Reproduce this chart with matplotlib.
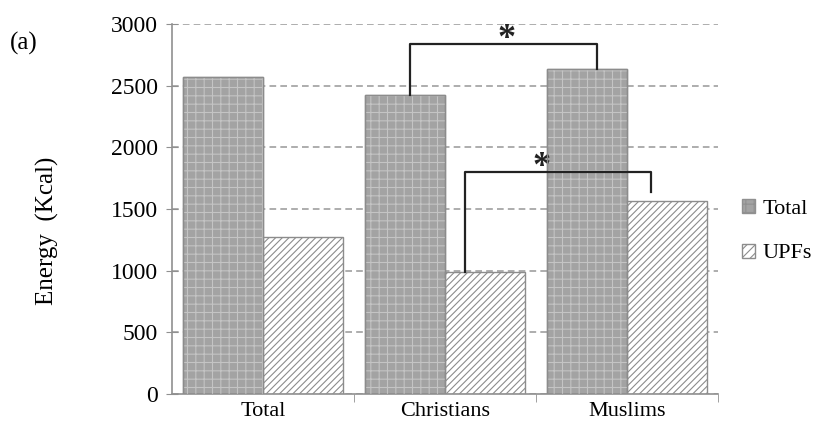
import matplotlib
matplotlib.use("Agg")
import matplotlib.pyplot as plt
from matplotlib.patches import Patch
import numpy as np

plt.rcParams['font.family'] = ['Liberation Serif', 'DejaVu Serif']
plt.rcParams['hatch.linewidth'] = 0.8

groups = ['Total', 'Christians', 'Muslims']
total_vals = [2570, 2425, 2640]
upf_vals = [1275, 990, 1565]
series = ['Total', 'UPFs']

x = np.arange(len(groups))
w = 0.44

fig = plt.figure(figsize=(8.21, 4.30), dpi=100)
ax = fig.add_axes([0.2095, 0.0837, 0.665, 0.86])

# checkered grey bars for Total
ax.bar(x - w / 2, total_vals, w, color='#a3a3a3', edgecolor='#909090', lw=1.0, zorder=2)
ax.bar(x - w / 2, total_vals, w, fill=False, hatch='++', edgecolor='#c4c4c4', lw=0, zorder=3)
ax.bar(x - w / 2, total_vals, w, fill=False, edgecolor='#8c8c8c', lw=1.0, zorder=4)
# hatched white bars for UPFs
ax.bar(x + w / 2, upf_vals, w, color='white', hatch='/////', edgecolor='#8c8c8c', lw=1.0,
       zorder=2)

ax.set_xlim(-0.5, 2.5)
ax.set_ylim(0, 3000)
ax.set_yticks(np.arange(0, 3001, 500))
ax.set_xticks(x)
ax.set_xticklabels(groups, fontsize=16)
ax.set_xticks([0.5, 1.5, 2.5], minor=True)
ax.tick_params(axis='x', which='major', length=0, pad=6)
ax.tick_params(axis='x', which='minor', length=6, color='#909090', direction='out')
ax.tick_params(axis='y', labelsize=17, length=8, direction='inout', color='#909090', pad=6)
ax.yaxis.grid(True, linestyle=(0, (4, 2.5)), color='#a0a0a0', lw=1.2, zorder=0)
ax.set_axisbelow(True)
for s in ['top', 'right']:
    ax.spines[s].set_visible(False)
for s in ['left', 'bottom']:
    ax.spines[s].set_color('#909090')
    ax.spines[s].set_linewidth(1.2)
ax.set_ylabel('Energy  (Kcal)', fontsize=18, va='center')
ax.yaxis.set_label_coords(-0.228, 0.44)

# significance brackets
def bracket(x0, x1, y0, y1, ytop, star_x):
    ax.plot([x0, x0, x1, x1], [y0, ytop, ytop, y1], color='#222222', lw=1.6, zorder=5,
            solid_joinstyle='round')
    ax.text(star_x, ytop + 35, '*', ha='center', va='center', fontsize=26,
            fontweight='bold', color='#222222')

bracket(0.81, 1.835, total_vals[1], total_vals[2], 2840, 1.34)
bracket(1.11, 2.13, upf_vals[1], 1640, 1805, 1.53)

handles = [Patch(facecolor='#a3a3a3', edgecolor='#909090', hatch='++'),
           Patch(facecolor='white', edgecolor='#8c8c8c', hatch='////')]
ax.legend(handles, series, loc='center left', bbox_to_anchor=(1.015, 0.44), frameon=False,
          fontsize=16, handlelength=0.6, handleheight=0.6, handletextpad=0.35,
          labelspacing=1.1, borderaxespad=0.3)

fig.text(0.012, 0.885, '(a)', fontsize=18)

fig.savefig('out.png', dpi=100)
